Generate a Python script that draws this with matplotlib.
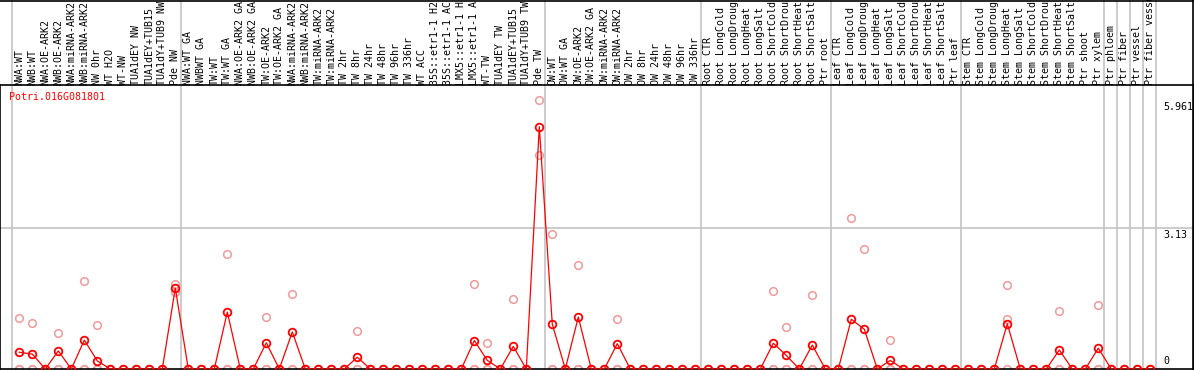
import numpy as np
import matplotlib
matplotlib.use("Agg")
import matplotlib.pyplot as plt
from matplotlib.transforms import blended_transform_factory
from matplotlib.lines import Line2D

# sample names along the x axis
labels = [
    "NWA:WT", "NWB:WT", "NWA:OE-ARK2", "NWB:OE-ARK2", "NWA:miRNA-ARK2", "NWB:miRNA-ARK2",
    "NW 0hr", "WT H2O", "WT-NW", "TUA1dEY NW", "TUA1dEY+TUB15", "TUA1dY+TUB9 NW", "Pde NW",
    "NWA:WT GA", "NWBWT GA", "TW:WT", "TW:WT GA", "NWA:OE-ARK2 GA", "NWB:OE-ARK2 GA",
    "TW:OE-ARK2", "TW:OE-ARK2 GA", "NWA:miRNA-ARK2", "NWB:miRNA-ARK2", "TW:miRNA-ARK2",
    "TW:miRNA-ARK2", "TW 2hr", "TW 8hr", "TW 24hr", "TW 48hr", "TW 96hr", "TW 336hr",
    "WT ACC", "35S::etr1-1 H2", "35S::etr1-1 AC", "LMX5::etr1-1 H", "LMX5::etr1-1 A",
    "WT-TW", "TUA1dEY TW", "TUA1dEY+TUB15", "TUA1dY+TUB9 TW", "Pde TW",
    "OW:WT", "OW:WT GA", "OW:OE-ARK2", "OW:OE-ARK2 GA", "OW:miRNA-ARK2", "OW:miRNA-ARK2",
    "OW 2hr", "OW 8hr", "OW 24hr", "OW 48hr", "OW 96hr", "OW 336hr",
    "Root CTR", "Root LongCold", "Root LongDroug", "Root LongHeat", "Root LongSalt",
    "Root ShortCold", "Root ShortDrou", "Root ShortHeat", "Root ShortSalt", "Ptr root",
    "Leaf CTR", "Leaf LongCold", "Leaf LongDroug", "Leaf LongHeat", "Leaf LongSalt",
    "Leaf ShortCold", "Leaf ShortDrou", "Leaf ShortHeat", "Leaf ShortSalt", "Ptr leaf",
    "Stem CTR", "Stem LongCold", "Stem LongDroug", "Stem LongHeat", "Stem LongSalt",
    "Stem ShortCold", "Stem ShortDrou", "Stem ShortHeat", "Stem ShortSalt", "Ptr shoot",
    "Ptr xylem", "Ptr phloem", "Ptr fiber", "Ptr vessel", "Ptr fiber vessel",
]

# mean expression per sample (red line)
means = [
    0.37, 0.33, 0, 0.40, 0, 0.64, 0.18, 0, 0, 0, 0, 0, 1.79,
    0, 0, 0, 1.26, 0, 0, 0.58, 0, 0.82, 0, 0, 0, 0, 0.26, 0, 0, 0, 0,
    0, 0, 0, 0, 0.63, 0.19, 0, 0.50, 0, 5.36,
    0.99, 0, 1.15, 0, 0, 0.56, 0, 0, 0, 0, 0, 0,
    0, 0, 0, 0, 0, 0.57, 0.30, 0, 0.53, 0,
    0, 1.10, 0.88, 0, 0.19, 0, 0, 0, 0, 0,
    0, 0, 0, 1.00, 0, 0, 0, 0.42, 0, 0,
    0.46, 0, 0, 0, 0,
]

# individual replicates (light red circles)
rep_a = [
    1.12, 1.02, 0, 0.80, 0, 1.95, 0.98, 0, 0, 0, 0, 0, 1.88,
    0, 0, 0, 2.55, 0, 0, 1.15, 0, 1.66, 0, 0, 0, 0, 0.84, 0, 0, 0, 0,
    0, 0, 0, 0, 1.87, 0.58, 0, 1.55, 0, 5.961,
    2.99, 0, 2.31, 0, 0, 1.10, 0, 0, 0, 0, 0, 0,
    0, 0, 0, 0, 0, 1.72, 0.93, 0, 1.64, 0,
    0, 3.35, 2.66, 0, 0.64, 0, 0, 0, 0, 0,
    0, 0, 0, 1.86, 0, 0, 0, 1.28, 0, 0,
    1.41, 0, 0, 0, 0,
]
rep_b = [0.0] * 88
rep_b[12] = 1.70
rep_b[40] = 4.73
rep_b[76] = 1.11
rep_c = [0.0] * 88
rep_c[12] = 1.79
rep_c[40] = np.nan

# first sample index of each group (grey separators)
group_starts = [0, 13, 41, 53, 63, 73, 84, 85, 86, 87, 88]

ytick_vals = [5.961, 3.13]

W, H = 1194, 370
px_step = 13.0
x0_px = 19.3
y_scale = 45.2  # pixels per unit

fig = plt.figure(figsize=(W / 100, H / 100), dpi=100)
ax = fig.add_axes([0, 1 / H, 1, 284 / H])
ax.set_xlim(-x0_px / px_step, (W - x0_px) / px_step)
ax.set_ylim(0, 284 / y_scale)
ax.set_xticks([])
ax.set_yticks([])
for s in ax.spines.values():
    s.set_color("black")
    s.set_linewidth(1.2)

mono = "DejaVu Sans Mono"
x = np.arange(len(labels))

# grid lines
vt = blended_transform_factory(ax.transData, fig.transFigure)
for g in group_starts:
    ax.plot([g - 0.6, g - 0.6], [0, 1], transform=vt, color="#c4c4c4",
            lw=1.2, clip_on=False, zorder=0)
ax.axhline(3.13, color="#c4c4c4", lw=1.2, zorder=0)

# replicates then means
for r in (rep_a, rep_b, rep_c):
    ax.plot(x, r, "o", ls="none", ms=5.5, mfc="none", mec="#f09a9a", mew=1.1, zorder=2)
ax.plot(x, means, "-", color="red", lw=0.9, zorder=3)
ax.plot(x, means, "o", ls="none", ms=5.5, mfc="none", mec="red", mew=1.3, zorder=4)

# sample labels
for i, lab in enumerate(labels):
    ax.text(i, 1.0, lab, transform=ax.get_xaxis_transform(), rotation=90,
            ha="center", va="bottom", fontsize=7.2, family=mono, clip_on=False)

# value labels on the right
for v in ytick_vals:
    ax.annotate(f"{v:g}", xy=(1163 / W, v), xycoords=("axes fraction", "data"),
                xytext=(0, -2), textcoords="offset pixels", ha="left", va="top",
                fontsize=7.2, family=mono)
ax.annotate("0", xy=(1163 / W, 0), xycoords=("axes fraction", "data"),
            xytext=(0, 3), textcoords="offset pixels", ha="left", va="bottom",
            fontsize=7.2, family=mono)

fig.text(9 / W, 1 - 97 / H, "Potri.016G081801", color="red", ha="left",
         va="center", fontsize=7.2, family=mono)

# outer frame of the label area
fig.add_artist(Line2D([0, 1], [1 - 0.5 / H, 1 - 0.5 / H], color="black", lw=1.2))
fig.add_artist(Line2D([1 - 1.5 / W, 1 - 1.5 / W], [0, 1], color="black", lw=1.2))

fig.savefig("out.png", dpi=100)
